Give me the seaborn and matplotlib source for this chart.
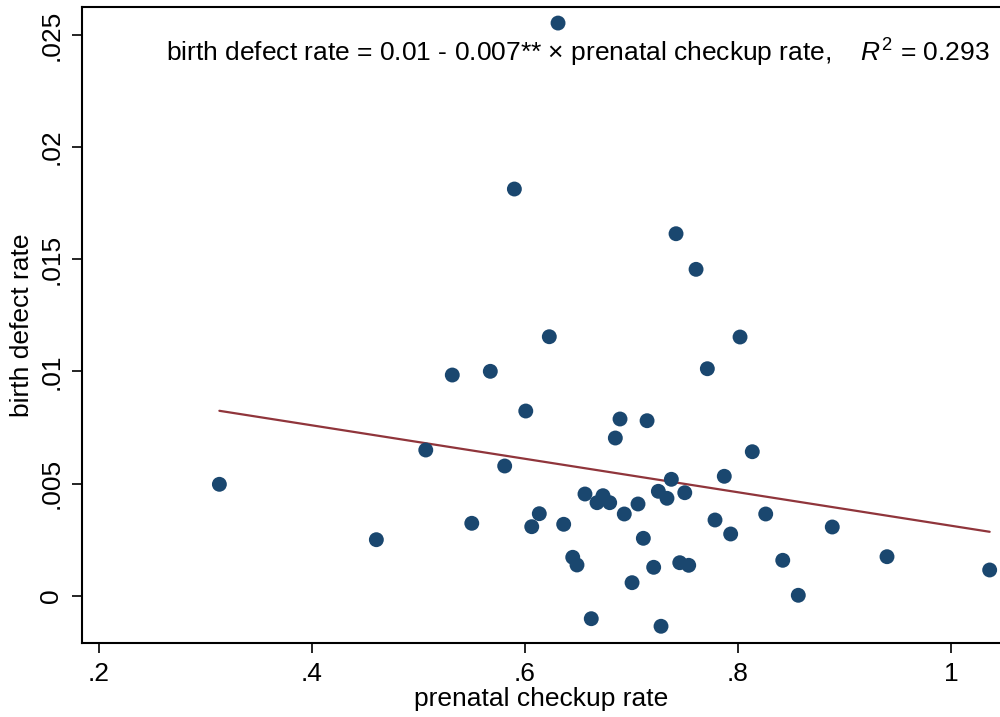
import numpy as np
import pandas as pd
import matplotlib
matplotlib.use("Agg")
import matplotlib.pyplot as plt
import seaborn as sns

# ---- data ----
checkup_rate = [0.3130, 0.4604, 0.5068, 0.5317, 0.5500, 0.5674, 0.5809, 0.5900, 0.6007, 0.6063,
                0.6134, 0.6228, 0.6310, 0.6363, 0.6448, 0.6488, 0.6563, 0.6622, 0.6676, 0.6732,
                0.6795, 0.6848, 0.6892, 0.6932, 0.7005, 0.7061, 0.7111, 0.7146, 0.7208, 0.7252,
                0.7277, 0.7333, 0.7374, 0.7418, 0.7453, 0.7500, 0.7537, 0.7606, 0.7712, 0.7784,
                0.7871, 0.7931, 0.8019, 0.8134, 0.8260, 0.8420, 0.8566, 0.8885, 0.9399, 1.0363]
defect_rate = [0.004967, 0.002497, 0.006496, 0.009840, 0.003228, 0.010005, 0.005783, 0.018134, 0.008235, 0.003077,
               0.003656, 0.011548, 0.025535, 0.003184, 0.001712, 0.001369, 0.004534, -0.001026, 0.004147, 0.004459,
               0.004147, 0.007031, 0.007879, 0.003643, 0.000580, 0.004089, 0.002559, 0.007803, 0.001266, 0.004655,
               -0.001364, 0.004343, 0.005190, 0.016141, 0.001471, 0.004592, 0.001355, 0.014553, 0.010121, 0.003375,
               0.005324, 0.002751, 0.011535, 0.006420, 0.003643, 0.001578, 0.000018, 0.003063, 0.001739, 0.001146]

fit_intercept = 0.01058
fit_slope = -0.00746

x_ticks = [0.2, 0.4, 0.6, 0.8, 1.0]
x_tick_labels = [".2", ".4", ".6", ".8", "1"]
y_ticks = [0.0, 0.005, 0.01, 0.015, 0.02, 0.025]
y_tick_labels = ["0", ".005", ".01", ".015", ".02", ".025"]

annotation = r"birth defect rate = 0.01 - 0.007** × prenatal checkup rate,    $R^2$ = 0.293"

# ---- style ----
sns.set_theme(style="white")
plt.rcParams["font.family"] = ["Liberation Sans", "DejaVu Sans"]
plt.rcParams["mathtext.fontset"] = "custom"
plt.rcParams["mathtext.rm"] = "Liberation Sans"
plt.rcParams["mathtext.it"] = "Liberation Sans:italic"
plt.rcParams["text.color"] = "black"
plt.rcParams["axes.labelcolor"] = "black"
plt.rcParams["xtick.color"] = "black"
plt.rcParams["ytick.color"] = "black"

df = pd.DataFrame({"x": checkup_rate, "y": defect_rate})
xr = np.array([min(checkup_rate), max(checkup_rate)])
fit_df = pd.DataFrame({"x": xr, "y": fit_intercept + fit_slope * xr})

fig = plt.figure(figsize=(10, 7.17), dpi=100)
ax = fig.add_axes([0.082, 0.1032, 0.918, 0.887])

sns.scatterplot(data=df, x="x", y="y", ax=ax, color="#1a476f", s=115,
                edgecolor="none", linewidth=0, zorder=3)
sns.lineplot(data=fit_df, x="x", y="y", ax=ax, color="#90353b", linewidth=1.6,
             zorder=2)

ax.set_xlim(0.184, 1.046)
ax.set_ylim(-0.00211, 0.02625)
ax.set_xticks(x_ticks)
ax.set_xticklabels(x_tick_labels)
ax.set_yticks(y_ticks)
ax.set_yticklabels(y_tick_labels, rotation=90, va="center")

ax.set_xlabel("prenatal checkup rate", fontsize=19, labelpad=1)
ax.set_ylabel("birth defect rate", fontsize=19, labelpad=4)

ax.tick_params(axis="both", which="major", direction="out", length=7.5, width=1.2,
               color="black", labelcolor="black", labelsize=19, pad=6,
               bottom=True, left=True)

for side in ["left", "bottom", "top"]:
    ax.spines[side].set_color("black")
    ax.spines[side].set_linewidth(1.5)
ax.spines["right"].set_visible(False)

ax.text(0.989, 0.9135, annotation, transform=ax.transAxes, ha="right",
        va="baseline", fontsize=19, color="black")

fig.savefig("out.png", dpi=100, facecolor="white")
